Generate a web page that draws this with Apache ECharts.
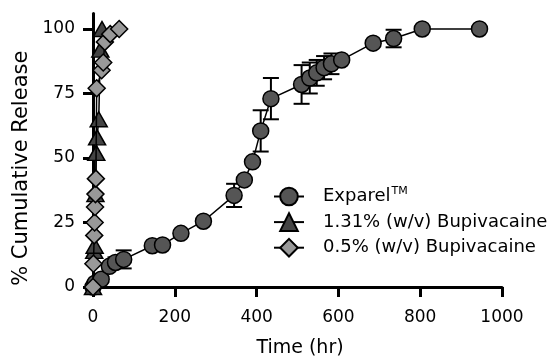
<!DOCTYPE html>
<html><head><meta charset="utf-8">
<script src="https://cdn.jsdelivr.net/npm/echarts@6/dist/echarts.min.js"></script>
<style>html,body{margin:0;padding:0;background:#fff}#c{width:547px;height:357px}</style>
</head><body><div id="c"></div>
<script>
// ---- data ----
const exparelTime  = [0, 5, 20, 40, 55, 75, 145, 170, 215, 270, 345, 370, 390, 410, 435, 510, 530, 547, 565, 583, 608, 685, 735, 805, 945];
const exparelValue = [0, 1.5, 3, 8, 9.5, 10.7, 16, 16.3, 20.8, 25.5, 35.5, 41.5, 48.5, 60.5, 73, 78.5, 81, 83, 85, 86.5, 88, 94.5, 96.3, 100, 100];
const exparelError = [0, 0, 1, 0, 2, 3.5, 0, 0, 0, 0, 4.5, 0, 0, 8, 8, 7.5, 6, 5, 4.5, 4, 0, 0, 3.4, 0, 0];
const bupi131Time  = [0, 3, 4, 6, 8, 10, 14, 18, 22];
const bupi131Value = [0, 14, 16, 36, 52, 58, 65, 92, 100];
const bupi05Time   = [0, 1, 3, 4, 5, 6, 7, 9, 21, 25, 29, 42, 64];
const bupi05Value  = [0, 9, 20, 25, 31, 36, 42, 77, 84, 87, 95, 98, 100];
const yTicks = [0, 25, 50, 75, 100];
const seriesNames = ['Exparel', '1.31% (w/v) Bupivacaine', '0.5% (w/v) Bupivacaine'];

const font = 'DejaVu Sans';
function pairs(t, v) { return t.map((x, i) => [x, v[i]]); }
const errData = exparelTime
  .map((t, i) => [t, exparelValue[i] - exparelError[i], exparelValue[i] + exparelError[i], exparelError[i]])
  .filter(d => d[3] > 0);

const chart = echarts.init(document.getElementById('c'), null, { renderer: 'canvas' });
const lineBase = { type: 'line', clip: false, lineStyle: { color: '#000', width: 1.5 } };
chart.setOption({
  animation: false,
  backgroundColor: '#fff',
  grid: { left: 93, right: 45, top: 13.5, bottom: 70, containLabel: false, outerBoundsMode: 'none' },
  xAxis: {
    type: 'value', min: 0, max: 1000, interval: 200,
    name: 'Time (hr)', nameLocation: 'middle', nameGap: 52,
    nameTextStyle: { fontFamily: font, fontSize: 19, color: '#000', padding: [0, 0, 0, 5] },
    axisLine: { onZero: false, lineStyle: { color: '#000', width: 3 } },
    axisTick: { length: 10, lineStyle: { color: '#000', width: 3 } },
    axisLabel: { margin: 22, fontFamily: font, fontSize: 17, color: '#000', formatter: v => String(v) },
    splitLine: { show: false }
  },
  yAxis: {
    type: 'value', min: 0, max: 106,
    name: '% Cumulative Release', nameLocation: 'middle', nameGap: 58,
    nameTextStyle: { fontFamily: font, fontSize: 21, color: '#000', padding: [0, 36, 0, 0] },
    axisLine: { show: true, onZero: false, lineStyle: { color: '#000', width: 3 } },
    axisTick: { show: true, length: 10, customValues: yTicks, lineStyle: { color: '#000', width: 3 } },
    axisLabel: { margin: 18, customValues: yTicks, fontFamily: font, fontSize: 17, color: '#000' },
    splitLine: { show: false }
  },
  legend: {
    orient: 'vertical', left: 268, top: 181,
    itemWidth: 30, itemHeight: 22, itemGap: 6,
    data: seriesNames,
    formatter: n => n === 'Exparel' ? 'Exparel{sup|TM}' : n,
    textStyle: {
      fontFamily: font, fontSize: 18, color: '#000', padding: [0, 0, 0, 14],
      rich: { sup: { fontFamily: font, fontSize: 11, color: '#000', verticalAlign: 'top', padding: [0, 0, 10, 1] } }
    }
  },
  series: [
    {
      type: 'custom', name: 'err', silent: true, clip: false, z: 1,
      data: errData, encode: { x: 0, y: [1, 2] },
      renderItem: (params, api) => {
        const x = api.value(0);
        const lo = api.coord([x, api.value(1)]);
        const hi = api.coord([x, api.value(2)]);
        const w = 8, st = { stroke: '#000', lineWidth: 2 };
        return { type: 'group', children: [
          { type: 'line', shape: { x1: lo[0], y1: lo[1], x2: hi[0], y2: hi[1] }, style: st },
          { type: 'line', shape: { x1: hi[0] - w, y1: hi[1], x2: hi[0] + w, y2: hi[1] }, style: st },
          { type: 'line', shape: { x1: lo[0] - w, y1: lo[1], x2: lo[0] + w, y2: lo[1] }, style: st }
        ] };
      }
    },
    Object.assign({}, lineBase, {
      name: seriesNames[0], data: pairs(exparelTime, exparelValue), z: 3,
      symbol: 'circle', symbolSize: 16,
      itemStyle: { color: '#555', borderColor: '#000', borderWidth: 1.5 }
    }),
    Object.assign({}, lineBase, {
      name: seriesNames[1], data: pairs(bupi131Time, bupi131Value), z: 4,
      symbol: 'triangle', symbolSize: [17, 15],
      itemStyle: { color: '#444', borderColor: '#000', borderWidth: 1.5 }
    }),
    Object.assign({}, lineBase, {
      name: seriesNames[2], data: pairs(bupi05Time, bupi05Value), z: 5,
      symbol: 'diamond', symbolSize: 17,
      itemStyle: { color: '#999', borderColor: '#000', borderWidth: 1.5 }
    })
  ]
});
</script></body></html>
